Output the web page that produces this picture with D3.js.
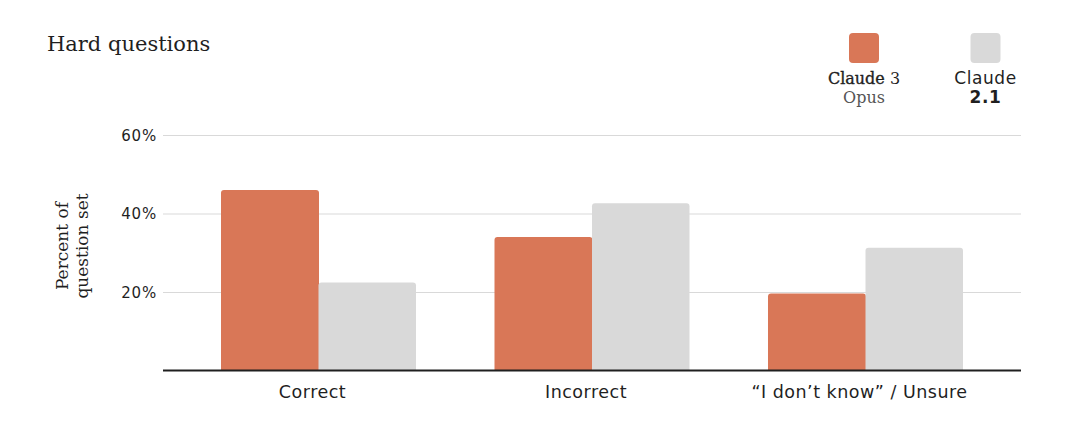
<!DOCTYPE html>
<html>
<head>
<meta charset="utf-8">
<script src="https://cdn.jsdelivr.net/npm/d3@7"></script>
<style>
  html, body { margin: 0; padding: 0; background: #fff; }
  svg { display: block; }
  .sans { font-family: "DejaVu Sans", sans-serif; }
  .serif { font-family: "DejaVu Serif", serif; }
</style>
</head>
<body>
<div id="chart"></div>
<script>
// values
const categories = ["Correct", "Incorrect", "\u201cI don\u2019t know\u201d / Unsure"]
const seriesNames = ["Claude 3 Opus", "Claude 2.1"]
const opusValues = [46.0, 34.0, 19.6]
const claude21Values = [22.4, 42.6, 31.3]
const yTicks = [20, 40, 60]

const colors = ["#d97757", "#d9d9d9"]

function drawChart() {
  const dimensions = {
    width: 1080,
    height: 440,
    plotLeft: 163,
    plotRight: 1021,
    top: 135,
    bottom: 370.5,
  }

  const svg = d3.select("#chart")
    .append("svg")
      .attr("width", dimensions.width)
      .attr("height", dimensions.height)

  const rows = categories.map((c, i) => ({
    category: c,
    values: [opusValues[i], claude21Values[i]],
  }))

  const yScale = d3.scaleLinear()
    .domain([0, 60])
    .range([dimensions.bottom, dimensions.top])

  const x0 = d3.scaleBand()
    .domain(categories)
    .range([221, 963])
    .paddingInner(0.287)
    .paddingOuter(0)

  const x1 = d3.scaleBand()
    .domain(d3.range(seriesNames.length))
    .range([0, x0.bandwidth()])

  // gridlines + tick labels
  const yAxis = d3.axisLeft(yScale)
    .tickValues(yTicks)
    .tickFormat(d => d + "%")
    .tickSize(-(dimensions.plotRight - dimensions.plotLeft))
    .tickPadding(6)

  const yAxisGroup = svg.append("g")
    .attr("transform", `translate(${dimensions.plotLeft},0)`)
    .call(yAxis)
  yAxisGroup.select(".domain").remove()
  yAxisGroup.selectAll(".tick line")
    .attr("stroke", "#d9d9d9")
    .attr("stroke-width", 1.2)
  yAxisGroup.selectAll(".tick text")
    .attr("class", "sans")
    .attr("font-size", 15)
    .attr("letter-spacing", 0.8)
    .attr("fill", "#1f1f1f")
    .attr("dy", "0.36em")

  // bars with rounded tops
  const r = 3
  const barPath = (x, y, w, h) => {
    const rr = Math.min(r, h)
    return `M${x},${y + h}V${y + rr}Q${x},${y} ${x + rr},${y}H${x + w - rr}Q${x + w},${y} ${x + w},${y + rr}V${y + h}Z`
  }

  const groups = svg.append("g")
    .selectAll("g")
    .data(rows)
    .join("g")
      .attr("transform", d => `translate(${x0(d.category)},0)`)

  groups.selectAll("path")
    .data(d => d.values.map((v, i) => ({ v, i })))
    .join("path")
      .attr("fill", d => colors[d.i])
      .attr("d", d => barPath(
        x1(d.i), yScale(d.v),
        x1.bandwidth() + (d.i === 0 ? 0.5 : 0),
        yScale(0) - yScale(d.v)))

  // baseline
  svg.append("line")
    .attr("x1", dimensions.plotLeft)
    .attr("x2", dimensions.plotRight)
    .attr("y1", yScale(0))
    .attr("y2", yScale(0))
    .attr("stroke", "#1f1f1f")
    .attr("stroke-width", 2)

  // category labels
  svg.append("g")
    .selectAll("text")
    .data(categories)
    .join("text")
      .attr("class", "sans")
      .attr("x", d => x0(d) + x0.bandwidth() / 2 - 6)
      .attr("y", 398)
      .attr("text-anchor", "middle")
      .attr("font-size", 17.5)
      .attr("letter-spacing", 0.5)
      .attr("fill", "#1f1f1f")
      .text(d => d)

  // title
  svg.append("text")
    .attr("class", "serif")
    .attr("x", 47)
    .attr("y", 51)
    .attr("font-size", 21)
    .attr("fill", "#1f1f1f")
    .text("Hard questions")

  // y axis label
  const yLabel = svg.append("text")
    .attr("class", "serif")
    .attr("transform", `translate(68,246) rotate(-90)`)
    .attr("text-anchor", "middle")
    .attr("font-size", 17)
    .attr("fill", "#1f1f1f")
  yLabel.append("tspan").attr("x", 0).attr("dy", 0).text("Percent of")
  yLabel.append("tspan").attr("x", 0).attr("dy", "1.15em").text("question set")

  // legend
  const legendX = d3.scalePoint()
    .domain(seriesNames)
    .range([864, 985.5])

  const legend = svg.append("g")
    .selectAll("g")
    .data(seriesNames)
    .join("g")
      .attr("transform", d => `translate(${legendX(d)},0)`)

  legend.append("rect")
    .attr("x", -15)
    .attr("y", 33)
    .attr("width", 30)
    .attr("height", 30)
    .attr("rx", 4)
    .attr("fill", (d, i) => colors[i])

  const opusLabel = legend.filter((d, i) => i === 0).append("text")
    .attr("class", "serif")
    .attr("text-anchor", "middle")
    .attr("font-size", 16)
    .attr("fill", "#1f1f1f")
  opusLabel.append("tspan").attr("x", 0).attr("y", 84).attr("stroke", "#1f1f1f").attr("stroke-width", 0.35).text("Claude ")
    .append("tspan").attr("stroke", "none").text("3")
  opusLabel.append("tspan").attr("x", 0).attr("y", 103).attr("fill", "#555").text("Opus")

  const c21Label = legend.filter((d, i) => i === 1).append("text")
    .attr("class", "sans")
    .attr("text-anchor", "middle")
    .attr("font-size", 17)
    .attr("letter-spacing", 0.6)
    .attr("fill", "#1f1f1f")
  c21Label.append("tspan").attr("x", 0).attr("y", 84).text("Claude")
  c21Label.append("tspan").attr("x", 0).attr("y", 103).attr("font-weight", "bold").text("2.1")
}
drawChart()
</script>
</body>
</html>
